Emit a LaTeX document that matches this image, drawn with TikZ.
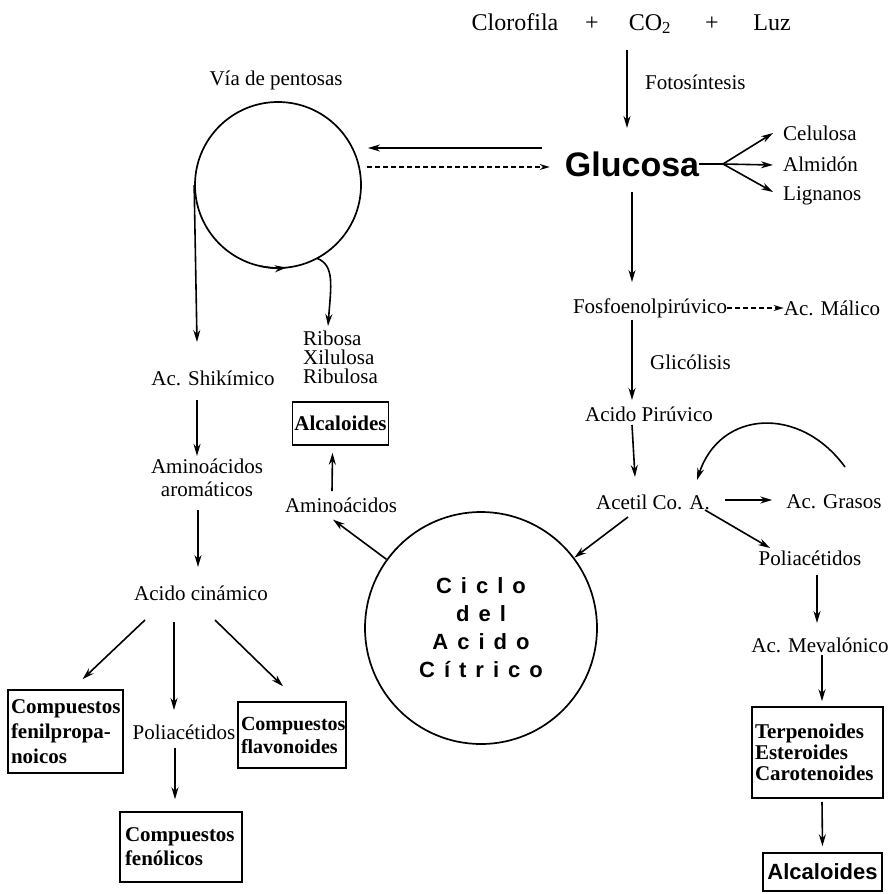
\documentclass[tikz,border=0pt]{standalone}
\usepackage{fontspec}
\setmainfont{Liberation Serif}
\newfontfamily\hsans{Liberation Sans}
\usetikzlibrary{arrows.meta,calc}
\newcommand\fs[1]{\fontsize{#1}{#1}\selectfont}
\newcommand\lsp{\hspace{9pt}}
\begin{document}
\begin{tikzpicture}[x=1pt,y=-1pt,
  t/.style={inner sep=0pt,font=\fs{21}},
  big/.style={inner sep=0pt,font=\fs{24},anchor=base},
  bx/.style={draw,line width=1.5pt,inner xsep=4pt,inner ysep=0pt,align=left},
  arr/.style={-{Stealth[length=12pt,width=7pt]},line width=1.6pt},
  ln/.style={line width=1.6pt},
  dsh/.style={-{Stealth[length=10pt,width=6pt]},line width=1.3pt,dash pattern=on 5pt off 3pt},
  circ/.style={draw,circle,line width=1.7pt,inner sep=0pt}]
\useasboundingbox (0,0) rectangle (892,894);

% top row
\node[big] (clo) at (515,30) {Clorofila};
\node[big] (pl1) at (592,30) {+};
\node[big] (co2) at (650,30) {CO\textsubscript{2}};
\node[big] (pl2) at (712,30) {+};
\node[big] (luz) at (772,30) {Luz};
\node[t,anchor=west] (foto) at (645,82) {Fotosíntesis};
\node[inner sep=0pt,font=\hsans\bfseries\fs{34}] (glu) at (632,164) {Glucosa};
\node[t,anchor=west] (cel) at (783,133) {Celulosa};
\node[t,anchor=west] (alm) at (783,164) {Almidón};
\node[t,anchor=west] (lig) at (783,196) {Lignanos};
\coordinate (br) at (723,164);

% pentose pathway
\node[t] (vpent) at (276,80) {Vía de pentosas};
\node[circ,minimum size=166pt] (pent) at (278,185) {};
\node[t,anchor=north west,align=left,font=\fontsize{21}{19}\selectfont] (rib) at (303,331) {Ribosa\\Xilulosa\\Ribulosa};
\node[bx,font=\fs{21}\bfseries,minimum width=95pt,minimum height=43pt,inner xsep=2pt] (alcM) at (340.5,423.5) {Alcaloides};
\node[t] (aminoM) at (341,505) {Aminoácidos};

% left column
\node[t] (shik) at (213,378) {Ac. Shikímico};
\node[t,align=center,font=\fontsize{21}{23}\selectfont] (aroma) at (207,478) {Aminoácidos\\aromáticos};
\node[t] (cinam) at (201,593) {Acido cinámico};
\node[bx,font=\fontsize{21}{25}\selectfont\bfseries,minimum width=115pt,minimum height=83pt,text width=109pt,inner xsep=3pt] (fenil) at (65.5,731.5) {Compuestos\\fenilpropa-\\noicos};
\node[t] (poliL) at (184,732) {Poliacétidos};
\node[bx,font=\fontsize{20}{23}\selectfont\bfseries,minimum width=108pt,minimum height=66pt,text width=102pt,inner xsep=3pt] (flavo) at (292,735) {Compuestos\\flavonoides};
\node[bx,font=\fontsize{21}{24}\selectfont\bfseries,minimum width=122pt,minimum height=70pt,text width=112pt,inner xsep=5pt] (fenol) at (181,847) {Compuestos\\fenólicos};

% citric acid cycle
\node[circ,minimum size=232pt,align=center,font=\hsans\bfseries\fontsize{22}{28}\selectfont] (ciclo) at (481,628)
  {C\lsp i\lsp c\lsp l\lsp o\\d\lsp e\lsp l\\A\lsp c\lsp i\lsp d\lsp o\\C\lsp í\lsp t\lsp r\lsp i\lsp c\lsp o};

% right column
\node[t] (fosfo) at (650,308) {Fosfoenolpirúvico};
\node[t] (malico) at (832,308) {Ac. Málico};
\node[t,anchor=west] (glic) at (650,362) {Glicólisis};
\node[t] (piru) at (649,414) {Acido Pirúvico};
\node[t] (acetil) at (653,502) {Acetil Co. A.};
\node[t] (grasos) at (834,502) {Ac. Grasos};
\node[t] (poliR) at (810,558) {Poliacétidos};
\node[t] (meva) at (820,645) {Ac. Mevalónico};
\node[bx,font=\fontsize{21}{21}\selectfont\bfseries,minimum width=131pt,minimum height=91pt,text width=125pt,inner xsep=3pt] (terp) at (817.5,752.5) {Terpenoides\\Esteroides\\Carotenoides};
\node[bx,font=\hsans\bfseries\fs{22},minimum width=119pt,minimum height=38pt,inner xsep=2pt] (alcR) at (822.5,872) {Alcaloides};

% connectors top
\draw[arr] ($(co2.base)+(-23,20)$) -- ($(glu)+(-5,-36)$);
\draw[arr] ($(glu)+(0,28)$) -- ($(fosfo)+(-18,-26)$);
\draw[ln] (glu.east) -- (br);
\draw[arr] (br) -- ($(cel.west)+(-10,0)$);
\draw[arr] (br) -- ($(alm.west)+(-10,1)$);
\draw[arr] (br) -- ($(lig.west)+(-10,-4)$);
\draw[arr] ($(glu.west)+(-23,-16)$) -- ($(pent.center)+(90,-37)$);
\draw[dsh] ($(pent.center)+(89,-18)$) -- ($(glu.west)+(-15,3)$);

% pentose
\draw[arr] (pent.west) -- ($(shik)+(-16,-36)$);
\draw[arr] (pent.center) ++(102:83) arc[start angle=102,end angle=84,radius=83];
\draw[arr] (pent.center) ++(62:83) .. controls +(18,7) and +(3,-40) .. ($(rib.north west)+(25,-5)$);
\draw[arr] ($(aminoM)+(-9,-14)$) -- ($(alcM.south)+(-8,7)$);
\draw[arr] (ciclo.144) -- ($(aminoM.south)+(-8,7)$);

% left column
\draw[arr] ($(shik)+(-16,22)$) -- ($(aroma.north)+(-10,-3)$);
\draw[arr] ($(aroma.south)+(-9,13)$) -- ($(cinam)+(-3,-26)$);
\draw[arr] ($(cinam)+(-56,27)$) -- ($(fenil.north)+(17,-10)$);
\draw[arr] ($(cinam)+(-27,29)$) -- ($(poliL)+(-10,-22)$);
\draw[arr] ($(cinam)+(14,27)$) -- ($(flavo.north)+(-9,-15)$);
\draw[arr] ($(poliL)+(-9,16)$) -- ($(fenol.north)+(-6,-12)$);

% right column
\draw[dsh] (fosfo.east) -- (malico.west);
\draw[arr] ($(fosfo)+(-18,12)$) -- ($(piru)+(-17,-14)$);
\draw[arr] ($(piru)+(-17,11)$) -- ($(acetil)+(-18,-25)$);
\draw[arr] ($(grasos)+(11,-35)$) .. controls +(-45,-62) and +(23,-70) .. ($(acetil)+(44,-22)$);
\draw[arr] ($(acetil)+(72,-2)$) -- ($(grasos.west)+(-14,-2)$);
\draw[arr] ($(acetil)+(52,8)$) -- ($(poliR)+(-40,-10)$);
\draw[arr] ($(acetil)+(-25,15)$) -- (ciclo.37);
\draw[arr] ($(poliR)+(7,17)$) -- ($(meva)+(-3,-22)$);
\draw[arr] ($(meva)+(2,10)$) -- ($(terp.north)+(4.5,-5)$);
\draw[arr] ($(terp.south)+(4.5,3)$) -- ($(alcR.north)+(0,-6)$);
\end{tikzpicture}
\end{document}
